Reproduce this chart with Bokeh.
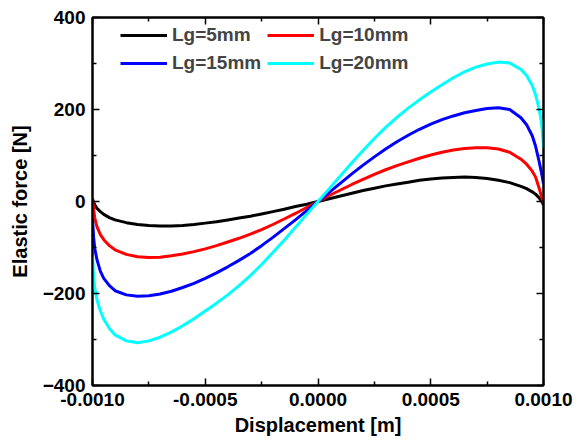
from bokeh.plotting import figure
from bokeh.models import (LinearAxis, FixedTicker, PrintfTickFormatter, Legend,
                          LegendItem, Range1d, ColumnDataSource, CustomJSTickFormatter)
from bokeh.embed import file_html
from bokeh.resources import INLINE

# Displacement in units of 1e-4 m
x_e4 = [-10, -9.95, -9.9, -9.8, -9.65, -9.5, -9.25, -9, -8.5, -8, -7.5, -7, -6.5,
        -6, -5.5, -5, -4.5, -4, -3.5, -3, -2.5, -2, -1.5, -1, -0.5,
        0,
        0.5, 1, 1.5, 2, 2.5, 3, 3.5, 4, 4.5, 5, 5.5, 6, 6.5, 7, 7.5, 8, 8.5,
        9, 9.25, 9.5, 9.65, 9.8, 9.9, 9.95, 10]

f_lg5 = [6, -2, -7, -15, -22, -28, -35, -40, -46, -50, -52, -53, -53, -52, -50,
         -47, -44, -40, -36, -32, -27, -22, -17, -11, -6,
         0,
         6, 12, 18, 24, 29, 34, 38, 42, 46, 49, 51, 52, 53, 52, 50, 46, 41, 33,
         28, 21, 16, 8, 2, -2, -8]
f_lg10 = [5, -17, -36, -55, -72, -83, -96, -105, -115, -120, -122, -121, -118,
          -114, -109, -103, -96, -88, -80, -71, -61, -50, -38, -26, -13,
          0,
          13, 25, 37, 48, 59, 69, 78, 86, 94, 101, 107, 112, 115, 117, 117, 114,
          107, 92, 81, 66, 53, 30, 13, 5, -2]
f_lg15 = [-37, -78, -102, -127, -152, -167, -183, -194, -203, -206, -205, -201,
          -195, -187, -178, -167, -155, -142, -128, -113, -96, -78, -59, -40, -20,
          0,
          20, 40, 60, 79, 97, 114, 130, 144, 157, 168, 178, 186, 193, 198, 202,
          204, 200, 182, 167, 143, 120, 88, 65, 52, 38]
f_lg20 = [-117, -165, -188, -214, -238, -256, -276, -290, -303, -307, -303, -295,
          -284, -270, -255, -238, -221, -203, -183, -161, -137, -111, -84, -56, -28,
          0,
          28, 56, 84, 111, 137, 161, 183, 203, 221, 238, 254, 269, 282, 292, 299,
          303, 301, 287, 274, 252, 232, 203, 175, 152, 117]

labels = ["Lg=5mm", "Lg=10mm", "Lg=15mm", "Lg=20mm"]
colors = ["#000000", "#ff0000", "#0000ff", "#00ffff"]
series = [f_lg5, f_lg10, f_lg15, f_lg20]

x_ticks = [-0.001, -0.0005, 0.0, 0.0005, 0.001]
x_minor = [-0.00075, -0.00025, 0.00025, 0.00075]
y_ticks = [-400, -200, 0, 200, 400]
y_minor = [-300, -100, 100, 300]

x_m = [v * 1e-4 for v in x_e4]

FONT = "Liberation Sans"

p = figure(width=586, height=448, output_backend="svg", toolbar_location=None,
           x_range=Range1d(-0.001, 0.001), y_range=Range1d(-400, 400),
           x_axis_type=None, y_axis_type=None,
           min_border_left=92, min_border_right=43, min_border_top=17,
           min_border_bottom=63)
p.grid.visible = False
p.outline_line_color = "black"
p.outline_line_width = 2
p.background_fill_color = "white"
p.border_fill_color = "white"

def style_axis(ax, show_labels):
    ax.axis_line_width = 2
    ax.axis_line_color = "black"
    ax.major_tick_in = 7
    ax.major_tick_out = 0
    ax.minor_tick_in = 4
    ax.minor_tick_out = 0
    ax.major_tick_line_width = 1.5
    ax.minor_tick_line_width = 1.5
    ax.major_label_text_font = FONT
    ax.major_label_text_font_style = "bold"
    ax.major_label_text_color = "black"
    ax.axis_label_text_font = FONT
    ax.axis_label_text_font_style = "bold"
    ax.axis_label_text_color = "black"
    if show_labels:
        ax.major_label_text_font_size = "19px"
        ax.major_label_standoff = 7
        ax.axis_label_text_font_size = "20px"
    else:
        ax.formatter = CustomJSTickFormatter(code="return ''")
        ax.major_label_standoff = 0

xt = FixedTicker(ticks=x_ticks, minor_ticks=x_minor)
yt = FixedTicker(ticks=y_ticks, minor_ticks=y_minor)

xb = LinearAxis(ticker=xt, formatter=PrintfTickFormatter(format="%.4f"),
                axis_label="Displacement [m]")
style_axis(xb, True)
xb.axis_label_standoff = 5
p.add_layout(xb, "below")

xtop = LinearAxis(ticker=xt)
style_axis(xtop, False)
p.add_layout(xtop, "above")

yl = LinearAxis(ticker=yt, axis_label="Elastic force [N]")
style_axis(yl, True)
yl.axis_label_standoff = 9
p.add_layout(yl, "left")

yr = LinearAxis(ticker=yt)
style_axis(yr, False)
p.add_layout(yr, "right")

items = []
for lab, col, ys in zip(labels, colors, series):
    src = ColumnDataSource(dict(x=x_m, y=ys))
    r = p.line("x", "y", source=src, line_color=col, line_width=3,
               line_join="round")
    items.append(LegendItem(label=lab, renderers=[r]))

legend = Legend(items=items, orientation="horizontal", ncols=2,
                location=(28, 311), padding=0, spacing=6, margin=0,
                glyph_width=47, glyph_height=20, label_standoff=5,
                label_text_font=FONT, label_text_font_style="bold",
                label_text_font_size="19px", label_height=20,
                background_fill_alpha=0, border_line_alpha=0)
p.add_layout(legend, "center")

open("out.html", "w").write(file_html(p, INLINE))
